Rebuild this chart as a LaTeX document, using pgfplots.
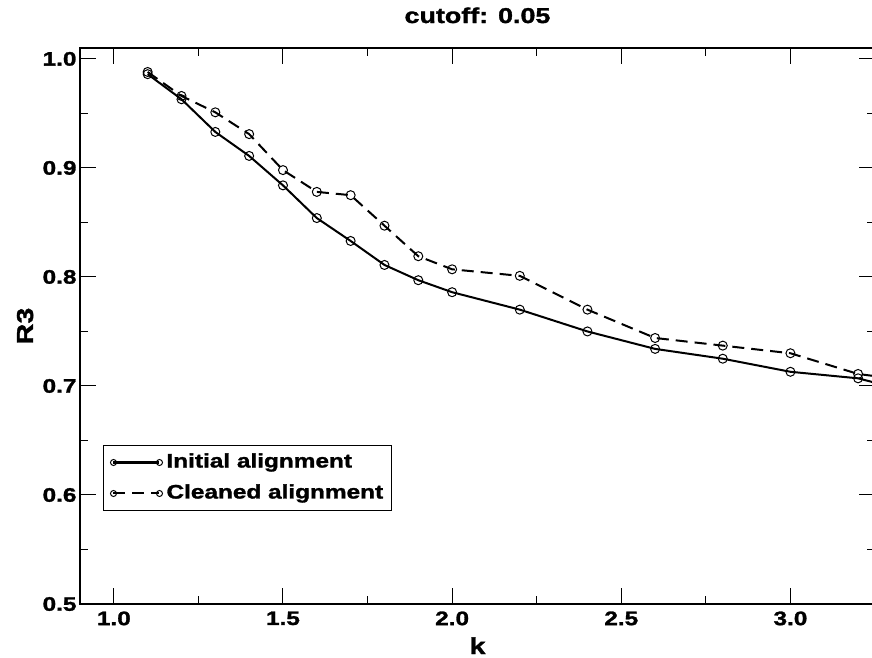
\documentclass[border=0pt]{standalone}
\usepackage{fontspec}
\setmainfont{Liberation Sans}[FakeStretch=1.25, BoldFeatures={FakeBold=1.5}]
\usepackage{pgfplots}
\pgfplotsset{compat=1.18}
\begin{document}
\begin{tikzpicture}
\begin{axis}[
  at={(0,0)}, anchor=south west,
  scale only axis, width=795bp, height=556bp,
  xmin=0.9, xmax=3.25, ymin=0.5, ymax=1.01,
  xtick={1.0,1.5,2.0,2.5,3.0}, ytick={0.5,0.6,0.7,0.8,0.9,1.0},
  minor x tick num=1, minor y tick num=1,
  tick align=inside,
  major tick length=16bp, minor tick length=8bp,
  tick style={black, line width=1bp},
  axis line style={line width=2bp},
  /pgf/number format/assume math mode=true,
  xticklabel={\pgfmathprintnumber[fixed,fixed zerofill,precision=1,assume math mode=true]{\tick}},
  yticklabel={\pgfmathprintnumber[fixed,fixed zerofill,precision=1,assume math mode=true]{\tick}},
  xticklabel style={font=\fontsize{19.5bp}{22bp}\selectfont\bfseries, yshift=-4bp},
  yticklabel style={font=\fontsize{19.5bp}{22bp}\selectfont\bfseries},
  title={cutoff: 0.05},
  title style={at={(axis description cs:0.5,1)}, anchor=base, yshift=19bp, font=\fontsize{21.5bp}{24bp}\selectfont\bfseries},
  xlabel={k},
  xlabel style={at={(axis description cs:0.5,0)}, anchor=base, yshift=-50bp, font=\fontsize{23bp}{26bp}\selectfont\bfseries},
  ylabel={R3},
  every axis y label/.style={at={([xshift=-47bp]axis description cs:0,0.5)}, rotate=90, anchor=base, font=\fontsize{23bp}{26bp}\selectfont\bfseries},
  legend image code/.code={\draw[#1, mark size=3bp] plot coordinates {(0bp,0bp) (46bp,0bp)};},
  legend style={at={(axis description cs:0,1)}, anchor=north west, xshift=23bp, yshift=-397bp,
    draw=black, line width=1bp, font=\fontsize{19.5bp}{22bp}\selectfont\bfseries,
    inner xsep=7bp, inner ysep=7bp, row sep=11bp, column sep=3bp,
    nodes={inner sep=1bp, text height=14bp, text depth=4bp}},
  legend cell align=left,
]
\addplot[black, line width=2bp, mark=o, mark size=4.5bp, mark options={solid, line width=1bp}] coordinates {
(1.1,0.986) (1.2,0.963) (1.3,0.933) (1.4,0.911) (1.5,0.884) (1.6,0.854) (1.7,0.833) (1.8,0.811) (1.9,0.797) (2.0,0.786) (2.2,0.770) (2.4,0.750) (2.6,0.734) (2.8,0.725) (3.0,0.713) (3.2,0.707) (3.4,0.691)
};
\addlegendentry{Initial alignment}
\addplot[black, line width=2bp, dash pattern=on 12bp off 7bp, mark=o, mark size=4.5bp, mark options={solid, line width=1bp}] coordinates {
(1.1,0.988) (1.2,0.966) (1.3,0.951) (1.4,0.931) (1.5,0.898) (1.6,0.878) (1.7,0.875) (1.8,0.847) (1.9,0.819) (2.0,0.807) (2.2,0.801) (2.4,0.770) (2.6,0.744) (2.8,0.737) (3.0,0.730) (3.2,0.711) (3.4,0.703)
};
\addlegendentry{Cleaned alignment}
\end{axis}
\pgfresetboundingbox
\path[use as bounding box] (-80bp,-54bp) rectangle (792bp,604bp);
\end{tikzpicture}
\end{document}
